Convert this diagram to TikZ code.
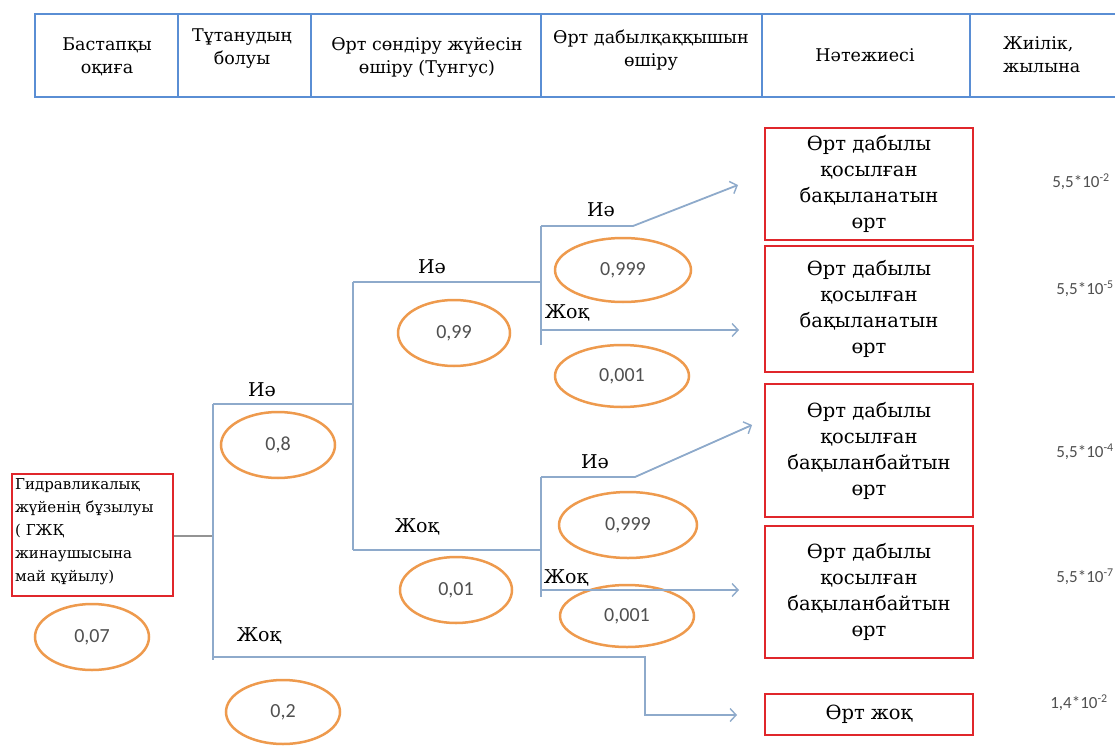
\documentclass[tikz,border=0pt]{standalone}
\usepackage{fontspec}
\setmainfont{DejaVu Serif}
\newfontfamily\numfont{Carlito}
\usetikzlibrary{shapes.geometric,arrows.meta}
\definecolor{hdrblue}{HTML}{5A8ED4}
\definecolor{boxred}{HTML}{E0262B}
\definecolor{ellorange}{HTML}{EE9A4D}
\definecolor{treeline}{HTML}{8EAACB}
\definecolor{numgray}{HTML}{505050}
\begin{document}
\begin{tikzpicture}[x=1pt,y=-1pt,
  cell/.style={draw=hdrblue, line width=2.5pt, minimum height=83pt, inner sep=0pt},
  hdrtext/.style={align=center, font=\rmfamily\fontsize{17.5}{23}\selectfont, inner sep=0pt},
  outbox/.style={draw=boxred, line width=2.8pt, minimum width=208pt, inner sep=0pt, align=center, font=\rmfamily\fontsize{19.5}{26}\selectfont},
  prob/.style={draw=ellorange, line width=2.5pt, ellipse, inner sep=0pt, font=\numfont\fontsize{20}{24}\selectfont, text=numgray},
  lbl/.style={font=\rmfamily\fontsize{19}{24}\selectfont, inner sep=0pt},
  freq/.style={font=\numfont\fontsize{17}{20}\selectfont, text=numgray, inner sep=0pt},
  branch/.style={draw=treeline, line width=1.8pt},
  arr/.style={branch, -{Straight Barb[length=6pt,width=13pt,line width=1.4pt]}}
]
\useasboundingbox (0,0) rectangle (1115,746);
\fill[white] (0,0) rectangle (1115,746);

% header table
\node[cell, minimum width=143pt] (c1) at (106.5,55.5) {};
\node[cell, minimum width=133pt] (c2) at (244.5,55.5) {};
\node[cell, minimum width=230pt] (c3) at (426,55.5) {};
\node[cell, minimum width=221pt] (c4) at (651.5,55.5) {};
\node[cell, minimum width=208pt] (c5) at (866,55.5) {};
\node[cell, minimum width=160pt] (c6) at (1050,55.5) {};
\node[hdrtext] (t1) at (107,57) {Бастапқы\\оқиға};
\node[hdrtext] (t2) at (242,49) {Тұтанудың\\болуы};
\node[hdrtext] (t3) at (427,57) {Өрт сөндіру жүйесін\\өшіру (Тунгус)};
\node[hdrtext] (t4) at (651,50) {Өрт дабылқаққышын\\өшіру};
\node[hdrtext] (t5) at (865,55) {Нәтежиесі};
\node[hdrtext, align=left, anchor=west] (t6) at (1003,55) {Жиілік,\\жылына};

% initiating event
\node[draw=boxred, line width=2.8pt, minimum width=161pt, minimum height=122pt, inner sep=0pt] (init) at (92.5,535) {};
\node[anchor=north west, align=left, inner sep=0pt, font=\rmfamily\fontsize{15}{23}\selectfont] (inittext) at (15,478) {Гидравликалық\\жүйенің бұзылуы\\( ГЖҚ\\жинаушысына\\май құйылу)};

% probabilities
\node[prob, minimum width=114pt, minimum height=66pt] (e07) at (92,637) {0,07};
\node[prob, minimum width=114pt, minimum height=66pt] (e8) at (278,445) {0,8};
\node[prob, minimum width=114pt, minimum height=64pt] (e2) at (283,712) {0,2};
\node[prob, minimum width=112pt, minimum height=66pt] (e99) at (454,333) {0,99};
\node[prob, minimum width=112pt, minimum height=66pt] (e01) at (456,590) {0,01};
\node[prob, minimum width=136pt, minimum height=64pt] (e999a) at (623,270) {0,999};
\node[prob, minimum width=134pt, minimum height=62pt] (e001a) at (622,376) {0,001};
\node[prob, minimum width=138pt, minimum height=66pt] (e999b) at (628,525) {0,999};
\node[prob, minimum width=134pt, minimum height=62pt] (e001b) at (627,616) {0,001};

% outcomes
\node[outbox, minimum height=112pt] (o1) at (869,184) {Өрт дабылы\\қосылған\\бақыланатын\\өрт};
\node[outbox, minimum height=126pt] (o2) at (869,309) {Өрт дабылы\\қосылған\\бақыланатын\\өрт};
\node[outbox, minimum height=133pt] (o3) at (869,450.5) {Өрт дабылы\\қосылған\\бақыланбайтын\\өрт};
\node[outbox, minimum height=132pt] (o4) at (869,592) {Өрт дабылы\\қосылған\\бақыланбайтын\\өрт};
\node[outbox, minimum height=41pt] (o5) at (869,714.5) {Өрт жоқ};

% frequencies
\node[freq] (f1) at (1081,182) {5,5*10\textsuperscript{-2}};
\node[freq] (f2) at (1085,289) {5,5*10\textsuperscript{-5}};
\node[freq] (f3) at (1085,452) {5,5*10\textsuperscript{-4}};
\node[freq] (f4) at (1085,577) {5,5*10\textsuperscript{-7}};
\node[freq] (f5) at (1079,703) {1,4*10\textsuperscript{-2}};

% tree coordinates
\coordinate (r0) at (213,536);
\coordinate (r1) at (213,404);
\coordinate (r2) at (213,660);
\coordinate (n1) at (353,404);
\coordinate (n1t) at (353,282);
\coordinate (n1b) at (353,550);
\coordinate (a0) at (541,282);
\coordinate (a1) at (541,226);
\coordinate (a2) at (541,345);
\coordinate (a3) at (633,226);
\coordinate (a4) at (541,330);
\coordinate (aE1) at (738,185);
\coordinate (aE2) at (739,330);
\coordinate (b0) at (541,550);
\coordinate (b1) at (541,477);
\coordinate (b2) at (541,597);
\coordinate (b3) at (635,477);
\coordinate (b4) at (541,590);
\coordinate (bE1) at (752,425);
\coordinate (bE2) at (739,590);
\coordinate (z0) at (213,657);
\coordinate (z1) at (645,657);
\coordinate (z2) at (645,715);
\coordinate (zE) at (737,715);

% tree
\draw[draw=gray!85, line width=1.8pt] (init.east |- r0) -- (r0);
\draw[branch] (r1) -- (r2);
\draw[branch] (r1) -- (n1);
\draw[branch] (n1t) -- (n1b);
\draw[branch] (n1t) -- (a0);
\draw[branch] (a1) -- (a2);
\draw[arr] (a1) -- (a3) -- (aE1);
\draw[arr] (a4) -- (aE2);
\draw[branch] (n1b) -- (b0);
\draw[branch] (b1) -- (b2);
\draw[arr] (b1) -- (b3) -- (bE1);
\draw[arr] (b4) -- (bE2);
\draw[arr] (z0) -- (z1) -- (z2) -- (zE);

% branch labels
\node[lbl] (l1) at (262,390) {Иә};
\node[lbl] (l2) at (432,267) {Иә};
\node[lbl] (l3) at (601,210) {Иә};
\node[lbl] (l4) at (567,313) {Жоқ};
\node[lbl] (l5) at (417,527) {Жоқ};
\node[lbl] (l6) at (595,462) {Иә};
\node[lbl] (l7) at (566,578) {Жоқ};
\node[lbl] (l8) at (259,636) {Жоқ};
\end{tikzpicture}
\end{document}
